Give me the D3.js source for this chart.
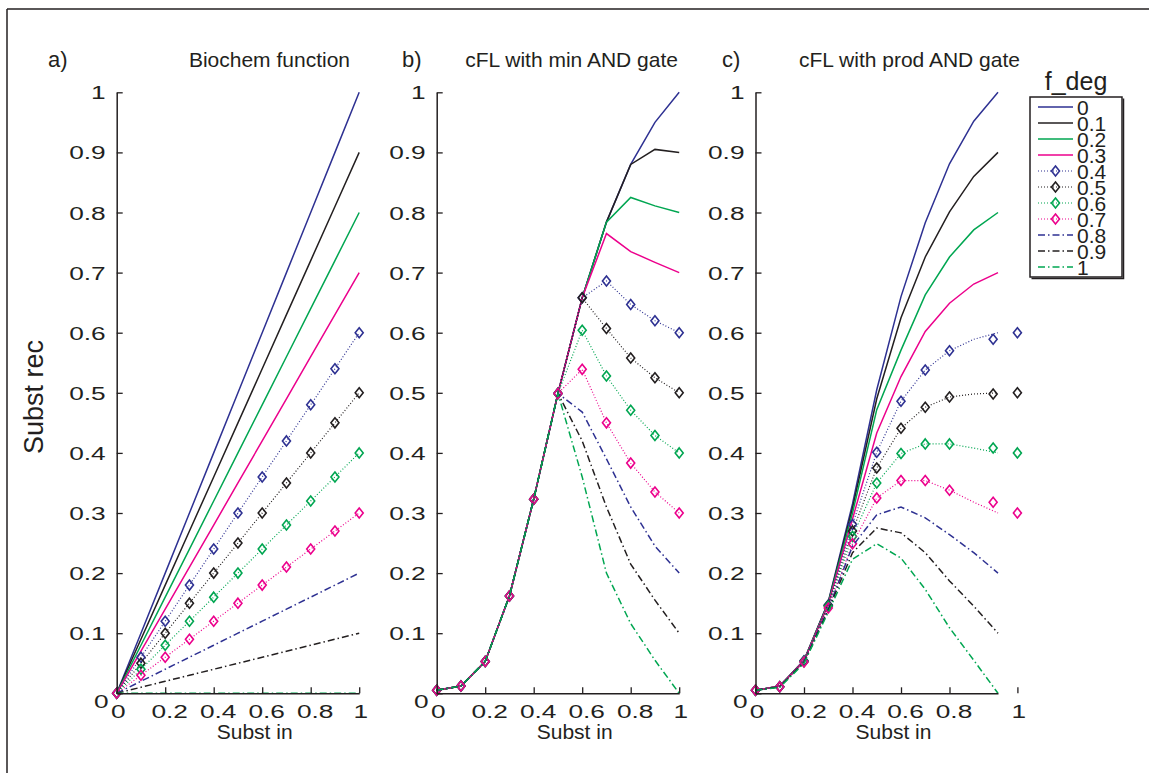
<!DOCTYPE html>
<html>
<head>
<meta charset="utf-8">
<script src="https://cdn.jsdelivr.net/npm/d3@7"></script>
<style>
  body { margin: 0; background: #fff; }
  svg text { font-family: "Liberation Sans", Arial, Helvetica, sans-serif; fill: #231f20; }
</style>
</head>
<body>
<div id="chart"></div>
<script>
// input levels (x) shared by all curves
var xIn = [0, 0.1, 0.2, 0.3, 0.4, 0.5, 0.6, 0.7, 0.8, 0.9, 1];
var fDeg = ["0", "0.1", "0.2", "0.3", "0.4", "0.5", "0.6", "0.7", "0.8", "0.9", "1"];

// a) Biochem function
var bioValues = [
  [0, 0.1, 0.2, 0.3, 0.4, 0.5, 0.6, 0.7, 0.8, 0.9, 1],
  [0, 0.09, 0.18, 0.27, 0.36, 0.45, 0.54, 0.63, 0.72, 0.81, 0.9],
  [0, 0.08, 0.16, 0.24, 0.32, 0.4, 0.48, 0.56, 0.64, 0.72, 0.8],
  [0, 0.07, 0.14, 0.21, 0.28, 0.35, 0.42, 0.49, 0.56, 0.63, 0.7],
  [0, 0.06, 0.12, 0.18, 0.24, 0.3, 0.36, 0.42, 0.48, 0.54, 0.6],
  [0, 0.05, 0.1, 0.15, 0.2, 0.25, 0.3, 0.35, 0.4, 0.45, 0.5],
  [0, 0.04, 0.08, 0.12, 0.16, 0.2, 0.24, 0.28, 0.32, 0.36, 0.4],
  [0, 0.03, 0.06, 0.09, 0.12, 0.15, 0.18, 0.21, 0.24, 0.27, 0.3],
  [0, 0.02, 0.04, 0.06, 0.08, 0.1, 0.12, 0.14, 0.16, 0.18, 0.2],
  [0, 0.01, 0.02, 0.03, 0.04, 0.05, 0.06, 0.07, 0.08, 0.09, 0.1],
  [0, 0, 0, 0, 0, 0, 0, 0, 0, 0, 0]
];

// b) cFL with min AND gate
var minValues = [
  [0.005, 0.012, 0.053, 0.162, 0.323, 0.499, 0.658, 0.784, 0.88, 0.95, 1],
  [0.005, 0.012, 0.053, 0.162, 0.323, 0.499, 0.658, 0.784, 0.88, 0.905, 0.9],
  [0.005, 0.012, 0.053, 0.162, 0.323, 0.499, 0.658, 0.784, 0.825, 0.811, 0.8],
  [0.005, 0.012, 0.053, 0.162, 0.323, 0.499, 0.658, 0.765, 0.735, 0.717, 0.7],
  [0.005, 0.012, 0.053, 0.162, 0.323, 0.499, 0.658, 0.686, 0.647, 0.62, 0.6],
  [0.005, 0.012, 0.053, 0.162, 0.323, 0.499, 0.658, 0.607, 0.558, 0.525, 0.5],
  [0.005, 0.012, 0.053, 0.162, 0.323, 0.499, 0.604, 0.528, 0.471, 0.429, 0.4],
  [0.005, 0.012, 0.053, 0.162, 0.323, 0.499, 0.539, 0.45, 0.383, 0.335, 0.3],
  [0.005, 0.012, 0.053, 0.162, 0.323, 0.499, 0.468, 0.39, 0.31, 0.245, 0.2],
  [0.005, 0.012, 0.053, 0.162, 0.323, 0.499, 0.42, 0.31, 0.215, 0.155, 0.1],
  [0.005, 0.012, 0.053, 0.162, 0.323, 0.499, 0.36, 0.2, 0.116, 0.055, 0]
];

// c) cFL with prod AND gate
var prodValues = [
  [0.005, 0.012, 0.055, 0.152, 0.315, 0.505, 0.66, 0.783, 0.881, 0.952, 1],
  [0.005, 0.012, 0.055, 0.151, 0.308, 0.49, 0.625, 0.726, 0.801, 0.86, 0.9],
  [0.005, 0.012, 0.054, 0.15, 0.3, 0.472, 0.571, 0.663, 0.726, 0.771, 0.8],
  [0.005, 0.012, 0.054, 0.148, 0.29, 0.433, 0.527, 0.602, 0.649, 0.681, 0.7],
  [0.005, 0.011, 0.054, 0.147, 0.281, 0.401, 0.486, 0.538, 0.57, 0.589, 0.6],
  [0.005, 0.011, 0.053, 0.146, 0.27, 0.375, 0.441, 0.476, 0.493, 0.498, 0.5],
  [0.005, 0.011, 0.053, 0.145, 0.261, 0.35, 0.399, 0.415, 0.415, 0.408, 0.4],
  [0.005, 0.011, 0.052, 0.142, 0.249, 0.325, 0.354, 0.354, 0.338, 0.318, 0.3],
  [0.005, 0.011, 0.052, 0.14, 0.245, 0.297, 0.31, 0.292, 0.264, 0.234, 0.2],
  [0.005, 0.011, 0.051, 0.138, 0.234, 0.275, 0.267, 0.234, 0.187, 0.145, 0.1],
  [0.005, 0.01, 0.05, 0.135, 0.223, 0.249, 0.225, 0.173, 0.109, 0.055, 0]
];
// in c) the diamond markers sit at shifted x positions
var prodMarkerX = [0, 0.1, 0.2, 0.3, 0.4, 0.5, 0.6, 0.7, 0.8, 0.98, 1.08];

var yTicks = [0, 0.1, 0.2, 0.3, 0.4, 0.5, 0.6, 0.7, 0.8, 0.9, 1];
var yTickLabels = ["0", "0.1", "0.2", "0.3", "0.4", "0.5", "0.6", "0.7", "0.8", "0.9", "1"];
var xTicks = [0, 0.2, 0.4, 0.6, 0.8, 1];
var prodXTicks = [0, 0.2, 0.4, 0.6, 0.8, 1.08];
var xTickLabels = ["0", "0.2", "0.4", "0.6", "0.8", "1"];

// styles per f_deg entry
var blue = "#2e3192", black = "#231f20", green = "#00a651", pink = "#ec008c";
var colors = [blue, black, green, pink, blue, black, green, pink, blue, black, green];
var kinds = ["solid", "solid", "solid", "solid", "dot", "dot", "dot", "dot", "dashdot", "dashdot", "dashdot"];

var width = 1149, height = 773;
var svg = d3.select("#chart").append("svg")
  .attr("width", width)
  .attr("height", height);

// outer frame (top and left edges)
svg.append("line").attr("x1", 7).attr("y1", 9).attr("x2", width).attr("y2", 9)
  .attr("stroke", "#231f20").attr("stroke-width", 1.5);
svg.append("line").attr("x1", 7).attr("y1", 9).attr("x2", 7).attr("y2", height)
  .attr("stroke", "#231f20").attr("stroke-width", 1.5);

var diamond = "M0,-5L4,0L0,5L-4,0Z";

function styleLine(sel, k) {
  sel.attr("fill", "none").attr("stroke", colors[k]);
  if (kinds[k] == "solid") sel.attr("stroke-width", 1.5);
  if (kinds[k] == "dot") sel.attr("stroke-width", 1.2).attr("stroke-dasharray", "1,2");
  if (kinds[k] == "dashdot") sel.attr("stroke-width", 1.5).attr("stroke-dasharray", "7,3,1.5,3");
  return sel;
}

var panels = [
  { tag: "a)", tagX: 48, title: "Biochem function", titleEnd: 350, left: 116.7,
    values: bioValues, markerX: xIn, ticks: xTicks },
  { tag: "b)", tagX: 402, title: "cFL with min AND gate", titleEnd: 678, left: 436.7,
    values: minValues, markerX: xIn, ticks: xTicks },
  { tag: "c)", tagX: 722, title: "cFL with prod AND gate", titleEnd: 1020, left: 755.5,
    values: prodValues, markerX: prodMarkerX, ticks: prodXTicks }
];

panels.forEach(function(p) {
  var x = d3.scaleLinear().domain([0, 1]).range([p.left, p.left + 242.5]);
  var y = d3.scaleLinear().domain([0, 1]).range([693.3, 92.3]);
  var g = svg.append("g");

  var line = d3.line()
    .x(function(d, i) { return x(xIn[i]); })
    .y(function(d) { return y(d); });

  p.values.forEach(function(vals, k) {
    styleLine(g.append("path").attr("d", line(vals)), k);
    if (kinds[k] == "dot") {
      g.selectAll(null).data(vals).enter().append("path")
        .attr("d", diamond)
        .attr("transform", function(d, i) { return "translate(" + x(p.markerX[i]) + "," + y(d) + ")"; })
        .attr("fill", "none")
        .attr("stroke", colors[k])
        .attr("stroke-width", 1.6);
    }
  });

  // y axis, ticks pointing inward
  var gy = g.append("g")
    .attr("transform", "translate(" + p.left + ",0)")
    .call(d3.axisLeft(y).tickValues(yTicks).tickSize(-6).tickSizeOuter(0)
      .tickFormat(function(d, i) { return yTickLabels[i]; }));
  gy.attr("font-size", null).attr("font-family", null).attr("color", "#231f20");
  gy.select(".domain").attr("stroke-width", 1.5);
  gy.selectAll(".tick line").attr("stroke-width", 1.3);
  gy.selectAll(".tick text")
    .attr("x", null).attr("dy", null)
    .attr("text-anchor", "end")
    .style("font-size", "18.5px")
    .attr("transform", function(d) { return "translate(" + (d === 0 ? -8 : -11) + "," + (d === 0 ? 14 : 6.5) + ") scale(1.42,1)"; });

  // x axis
  var gx = g.append("g")
    .attr("transform", "translate(0,693.3)")
    .call(d3.axisBottom(x).tickValues(p.ticks).tickSize(-6).tickSizeOuter(0)
      .tickFormat(function(d, i) { return xTickLabels[i]; }));
  gx.attr("font-size", null).attr("font-family", null).attr("color", "#231f20");
  gx.select(".domain").attr("stroke-width", 1.5);
  gx.selectAll(".tick line").attr("stroke-width", 1.3);
  gx.selectAll(".tick text")
    .attr("y", null).attr("dy", null)
    .attr("text-anchor", "middle")
    .style("font-size", "18.5px")
    .attr("transform", function(d, i) {
      var shift = xTickLabels[i].length > 1 ? 4 : 1;
      return "translate(" + shift + ",25) scale(1.42,1)";
    });

  // labels
  svg.append("text").attr("x", p.tagX).attr("y", 67).style("font-size", "22px").text(p.tag);
  svg.append("text").attr("x", p.titleEnd).attr("y", 67).attr("text-anchor", "end")
    .style("font-size", "21px").text(p.title);
  svg.append("text").attr("x", p.left + 138).attr("y", 739).attr("text-anchor", "middle")
    .style("font-size", "21px").text("Subst in");
});

// y axis title
svg.append("text")
  .attr("transform", "translate(43,397) rotate(-90)")
  .attr("text-anchor", "middle")
  .style("font-size", "27px")
  .text("Subst rec");

// legend
var legend = svg.append("g");
legend.append("text").attr("x", 1076).attr("y", 90).attr("text-anchor", "middle")
  .style("font-size", "25px").text("f_deg");
legend.append("rect").attr("x", 1030).attr("y", 97).attr("width", 92).attr("height", 180)
  .attr("fill", "#fff").attr("stroke", "#231f20").attr("stroke-width", 1.5);
legend.append("path").attr("d", "M1123.5,98.5V278.5H1031.5")
  .attr("fill", "none").attr("stroke", "#231f20").attr("stroke-width", 1.5);

fDeg.forEach(function(label, k) {
  var ly = 107 + 16 * k;
  styleLine(legend.append("line").attr("x1", 1038).attr("x2", 1073).attr("y1", ly).attr("y2", ly), k);
  if (kinds[k] == "dot") {
    legend.append("path").attr("d", diamond)
      .attr("transform", "translate(1055.5," + ly + ")")
      .attr("fill", "none").attr("stroke", colors[k]).attr("stroke-width", 1.6);
  }
  legend.append("text").attr("x", 1077).attr("y", ly + 8).style("font-size", "21px").text(label);
});
</script>
</body>
</html>
